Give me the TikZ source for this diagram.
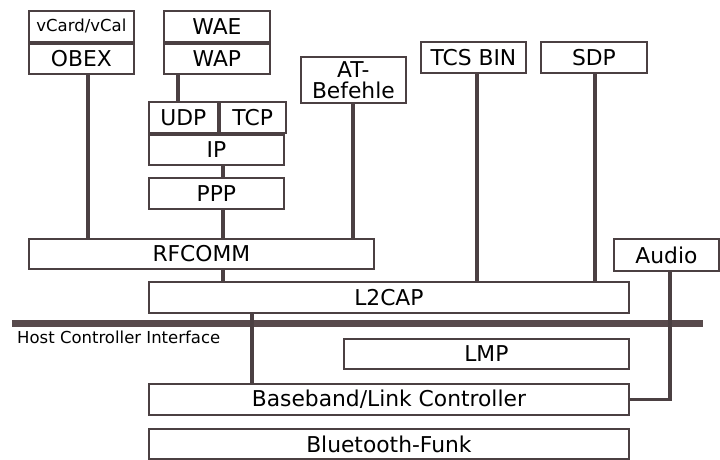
\documentclass[tikz,border=0pt]{standalone}
\usepackage{fontspec}
\setmainfont{DejaVu Sans}
\usetikzlibrary{positioning}
\definecolor{linegray}{RGB}{75, 64, 66}
\definecolor{hcigray}{RGB}{88, 74, 76}

\begin{document}
\begin{tikzpicture}[
    x=1pt, y=-1pt,
    layer/.style={draw=linegray, line width=1.8pt, rectangle, inner sep=0pt,
        minimum height=30, anchor=north west, font=\fontsize{21.8}{21}\selectfont},
    small/.style={font=\fontsize{16.5}{18}\selectfont},
    link/.style={draw=linegray, line width=3.4pt}
]
    \useasboundingbox (0,0) rectangle (720,460);

    % Top protocols
    \node[layer, small, minimum width=105, minimum height=31] (vcard) at (28,10) {vCard/vCal};
    \node[layer, minimum width=105, below=0pt of vcard.south west, anchor=north west] (obex) {OBEX};
    \node[layer, minimum width=106, minimum height=31] (wae) at (163,10) {WAE};
    \node[layer, minimum width=106, below=0pt of wae.south west, anchor=north west] (wap) {WAP};
    \node[layer, minimum width=69, minimum height=31] (udp) at (148,101) {UDP};
    \node[layer, minimum width=66, minimum height=31, right=0pt of udp.north east, anchor=north west] (tcp) {TCP};
    \node[layer, minimum width=135, below=0pt of udp.south west, anchor=north west] (ip) {IP};
    \node[layer, minimum width=135, minimum height=31] (ppp) at (148,177) {PPP};
    \node[layer, minimum width=105, minimum height=46, align=center] (at) at (300,56) {AT-\\Befehle};
    \node[layer, minimum width=105, minimum height=31] (tcs) at (420,41) {TCS BIN};
    \node[layer, minimum width=106, minimum height=31] (sdp) at (540,41) {SDP};

    % Lower layers
    \node[layer, minimum width=345] (rfcomm) at (28,238) {RFCOMM};
    \node[layer, minimum width=105, minimum height=32] (audio) at (613,238) {Audio};
    \node[layer, minimum width=480, minimum height=31] (l2cap) at (148,281) {L2CAP};
    \node[layer, minimum width=285] (lmp) at (343,338) {LMP};
    \node[layer, minimum width=480, minimum height=31] (baseband) at (148,383) {Baseband/Link Controller};
    \node[layer, minimum width=480] (funk) at (148,428) {Bluetooth-Funk};

    % Host Controller Interface
    \coordinate (hcil) at (12,323);
    \coordinate (hcir) at (703,323);
    \draw[hcigray, line width=7pt] (hcil) -- (hcir);
    \node[small, anchor=north west, inner sep=0pt] (hci) at (17,331) {Host Controller Interface};

    % Connections
    \foreach \x/\up/\down in {88/obex/rfcomm, 178/wap/udp, 223/ip/ppp, 223/ppp/rfcomm,
        353/at/rfcomm, 477/tcs/l2cap, 595/sdp/l2cap, 223/rfcomm/l2cap, 252/l2cap/baseband}
        \draw[link] (\x,0 |- \up.south) -- (\x,0 |- \down.north);
    \draw[link] (670,0 |- audio.south) |- (baseband.east);
\end{tikzpicture}
\end{document}
